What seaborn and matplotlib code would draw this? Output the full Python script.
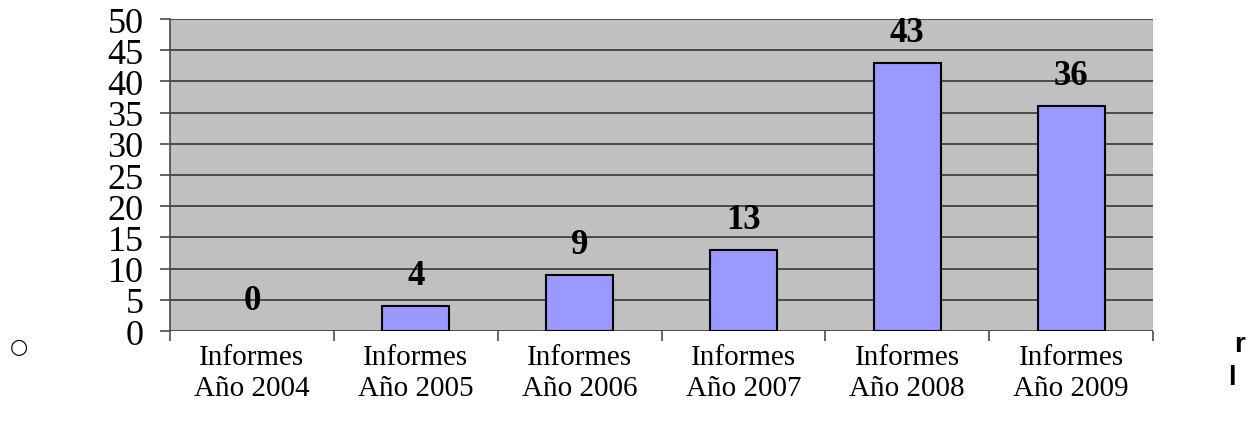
import numpy as np
import pandas as pd
import matplotlib
matplotlib.use("Agg")
import matplotlib.pyplot as plt
import seaborn as sns

# data
categories = ["Informes\nAño 2004", "Informes\nAño 2005", "Informes\nAño 2006",
              "Informes\nAño 2007", "Informes\nAño 2008", "Informes\nAño 2009"]
values = [0, 4, 9, 13, 43, 36]
y_ticks = list(range(0, 55, 5))

df = pd.DataFrame({"cat": categories, "val": values})

sns.set_style("white")
plt.rcParams["font.family"] = ["Liberation Serif", "DejaVu Serif"]
plt.rcParams["text.color"] = "black"
plt.rcParams["xtick.color"] = "black"
plt.rcParams["ytick.color"] = "black"

fig = plt.figure(figsize=(12.54, 4.39), dpi=100)
ax = fig.add_axes([0.1356, 0.2437, 0.7839, 0.7107])
ax.set_facecolor("#C0C0C0")

sns.barplot(data=df, x="cat", y="val", ax=ax, color="#9999FF",
            edgecolor="black", linewidth=1.5, width=0.41, saturation=1)

# zero-height bar leaves no outline in the source
for p, v in zip(ax.patches, values):
    if v == 0:
        p.set_linewidth(0)

ax.set_ylim(0, 50)
ax.set_xlim(-0.5, len(categories) - 0.5)
ax.set_yticks(y_ticks)
ax.yaxis.grid(True, color="#4a4a4a", linewidth=1.4)
ax.set_axisbelow(True)
ax.set_xlabel("")
ax.set_ylabel("")

for s in ["top", "right", "bottom"]:
    ax.spines[s].set_visible(False)
ax.spines["left"].set_color("#4a4a4a")
ax.spines["left"].set_linewidth(1.2)

ax.tick_params(axis="y", labelsize=26, length=7, width=1.2, color="#4a4a4a", pad=12, left=True)
ax.tick_params(axis="x", which="major", length=0, labelsize=21, pad=9)
ax.set_xticks(np.arange(-0.5, len(categories)), minor=True)
ax.tick_params(axis="x", which="minor", length=7, width=1.2, color="#4a4a4a", bottom=True)
for lab in ax.get_xticklabels():
    lab.set_linespacing(1.25)

for i, v in enumerate(values):
    ax.annotate(str(v), (i, v), xytext=(0, 10), textcoords="offset points",
                ha="center", va="bottom", fontsize=25, fontweight="bold")

# fragments around the chart in the source page
fig.text(0.008, 0.21, "○", fontsize=15, ha="left", va="center", family=["DejaVu Sans"])
fig.text(0.984, 0.215, "r", fontsize=20, ha="left", va="center", fontweight="bold",
         family=["Liberation Sans", "DejaVu Sans"])
fig.text(0.979, 0.14, "l", fontsize=20, ha="left", va="center", fontweight="bold",
         family=["Liberation Sans", "DejaVu Sans"])

fig.savefig("out.png", dpi=100)
